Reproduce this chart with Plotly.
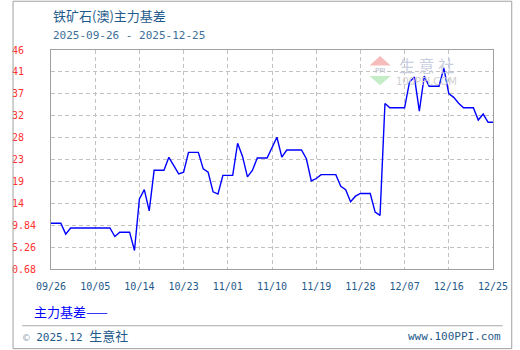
import plotly.graph_objects as go

# ---- data ----
dates = [
    "2025-09-26", "2025-09-28", "2025-09-29", "2025-09-30", "2025-10-08", "2025-10-09",
    "2025-10-10", "2025-10-12", "2025-10-13", "2025-10-14", "2025-10-15", "2025-10-16",
    "2025-10-17", "2025-10-19", "2025-10-20", "2025-10-22", "2025-10-23", "2025-10-24",
    "2025-10-26", "2025-10-27", "2025-10-28", "2025-10-29", "2025-10-30", "2025-10-31",
    "2025-11-02", "2025-11-03", "2025-11-04", "2025-11-05", "2025-11-06", "2025-11-07",
    "2025-11-09", "2025-11-11", "2025-11-12", "2025-11-13", "2025-11-16", "2025-11-17",
    "2025-11-18", "2025-11-19", "2025-11-20", "2025-11-23", "2025-11-24", "2025-11-25",
    "2025-11-26", "2025-11-27", "2025-11-28", "2025-11-30", "2025-12-01", "2025-12-02",
    "2025-12-03", "2025-12-04", "2025-12-07", "2025-12-08", "2025-12-09", "2025-12-10",
    "2025-12-11", "2025-12-12", "2025-12-14", "2025-12-15", "2025-12-16", "2025-12-17",
    "2025-12-18", "2025-12-19", "2025-12-21", "2025-12-22", "2025-12-23", "2025-12-24",
    "2025-12-25",
]
basis = [
    10.24, 10.24, 7.98, 9.26, 9.26, 7.47,
    8.38, 8.38, 4.54, 15.35, 17.27, 12.83,
    21.32, 21.32, 24.04, 20.56, 20.91, 25.06,
    25.06, 21.62, 20.91, 16.82, 16.36, 20.26,
    20.26, 26.98, 24.22, 19.93, 21.3, 23.88,
    23.88, 28.24, 24.09, 25.56, 25.56, 23.74,
    19.09, 19.6, 20.41, 20.41, 17.98, 17.27,
    14.75, 15.91, 16.47, 16.47, 12.58, 11.9,
    35.3, 34.39, 34.39, 39.79, 40.82, 33.7,
    41.02, 38.9, 38.9, 42.7, 37.38, 36.58,
    35.36, 34.39, 34.39, 31.83, 33.08, 31.36,
    31.36,
]
series_name = "主力基差"

x_tick_vals = ["2025-09-26", "2025-10-05", "2025-10-14", "2025-10-23", "2025-11-01",
               "2025-11-10", "2025-11-19", "2025-11-28", "2025-12-07", "2025-12-16",
               "2025-12-25"]
x_tick_text = ["09/26", "10/05", "10/14", "10/23", "11/01", "11/10", "11/19", "11/28",
               "12/07", "12/16", "12/25"]
y_tick_vals = [0.68, 5.26, 9.84, 14.42, 19.0, 23.58, 28.16, 32.74, 37.32, 41.9, 46.48]
y_tick_text = ["0.68", "5.26", "9.84", "14", "19", "23", "28", "32", "37", "41", "46"]

title_text = "铁矿石(澳)主力基差"
subtitle_text = "2025-09-26 - 2025-12-25"
footer_left = "2025.12"
footer_brand = "生意社"
footer_right = "www.100PPI.com"

# ---- layout geometry (pixels) ----
W_FIG, H_FIG = 520, 350
L, R, T, B = 40, 20, 49.5, 80.5
PW = W_FIG - L - R
PH = H_FIG - T - B


def px(x):
    return (x - L) / PW


def py(y):
    return (H_FIG - B - y) / PH


MONO = "DejaVu Sans Mono"
CJK = "Noto Sans CJK SC"
BLUE_TXT = "#1f5a8a"

fig = go.Figure()
fig.add_trace(go.Scatter(
    x=dates, y=basis, mode="lines", name=series_name,
    line=dict(color="#0000ff", width=1.4), hoverinfo="skip",
))

pad = max(len(t) for t in y_tick_text)
y_text_padded = [t + "\u00a0" * (pad - len(t)) for t in y_tick_text]

fig.update_layout(
    width=W_FIG, height=H_FIG,
    margin=dict(l=L, r=R, t=T, b=B, pad=0),
    paper_bgcolor="white", plot_bgcolor="white",
    showlegend=False,
    xaxis=dict(
        type="date", range=[x_tick_vals[0], x_tick_vals[-1]],
        tickvals=x_tick_vals, ticktext=x_tick_text,
        tickfont=dict(family=MONO, size=10, color=BLUE_TXT),
        ticks="", ticklabelstandoff=8,
        showgrid=True, gridcolor="#c2c2c2", gridwidth=1, griddash="4px,3px",
        showline=True, linecolor="#a0a0a0", linewidth=1, mirror=True,
        zeroline=False, fixedrange=True,
    ),
    yaxis=dict(
        range=[y_tick_vals[0], y_tick_vals[-1]],
        tickvals=y_tick_vals, ticktext=y_text_padded,
        tickfont=dict(family=MONO, size=10, color="#ff3030"),
        ticks="", ticklabelstandoff=12,
        showgrid=True, gridcolor="#c2c2c2", gridwidth=1, griddash="4px,3px",
        showline=True, linecolor="#a0a0a0", linewidth=1, mirror=True,
        zeroline=False, fixedrange=True,
    ),
)

ann = []
ann.append(dict(text=title_text, x=px(40), y=py(15), xref="paper", yref="paper",
                xanchor="left", yanchor="middle", showarrow=False,
                font=dict(family=CJK, size=13, color=BLUE_TXT)))
ann.append(dict(text=subtitle_text, x=px(40), y=py(35), xref="paper", yref="paper",
                xanchor="left", yanchor="middle", showarrow=False,
                font=dict(family=MONO, size=11, color="#3d6f99")))
ann.append(dict(text=series_name + "——", x=px(20), y=py(312), xref="paper", yref="paper",
                xanchor="left", yanchor="middle", showarrow=False,
                font=dict(family=CJK, size=13, color="#0000ff")))
ann.append(dict(text="<span style='color:#9aaabb'>©</span> " + footer_left +
                " <span style='font-family:Noto Sans CJK SC;font-size:13px'>" + footer_brand + "</span>",
                x=px(9), y=py(336), xref="paper", yref="paper",
                xanchor="left", yanchor="middle", showarrow=False,
                font=dict(family=MONO, size=11, color=BLUE_TXT)))
ann.append(dict(text=footer_right, x=px(510), y=py(337), xref="paper", yref="paper",
                xanchor="right", yanchor="middle", showarrow=False,
                font=dict(family=MONO, size=11, color=BLUE_TXT)))
# watermark
ann.append(dict(text="生 意 社", x=px(431), y=py(65), xref="paper", yref="paper",
                xanchor="center", yanchor="middle", showarrow=False,
                font=dict(family=CJK, size=16, color="#c9cee0")))
ann.append(dict(text="100PPI.COM", x=px(431), y=py(81), xref="paper", yref="paper",
                xanchor="center", yanchor="middle", showarrow=False,
                font=dict(family="DejaVu Sans", size=10, color="#cfcfcf")))
ann.append(dict(text="PPI", x=px(382.5), y=py(70.3), xref="paper", yref="paper",
                xanchor="center", yanchor="middle", showarrow=False,
                font=dict(family="DejaVu Sans", size=7, color="#b8bccc")))
fig.update_layout(annotations=ann)


def path(points):
    return "M " + " L ".join(f"{px(a)},{py(b)}" for a, b in points) + " Z"


shapes = [
    # outer frame
    dict(type="rect", xref="paper", yref="paper", x0=px(0.5), x1=px(519.5),
         y0=py(0.5), y1=py(349.5), line=dict(color="#a0a0a0", width=1)),
    # footer separator
    dict(type="line", xref="paper", yref="paper", x0=px(10), x1=px(510),
         y0=py(326.5), y1=py(326.5), line=dict(color="#a8a8a8", width=1)),
    # watermark logo
    dict(type="path", xref="paper", yref="paper",
         path=path([(371.5, 65), (393.5, 65), (382.5, 55.5)]),
         fillcolor="#f6bcbc", line=dict(width=0)),
    dict(type="path", xref="paper", yref="paper",
         path=path([(371.5, 75.5), (393.5, 75.5), (382.5, 85)]),
         fillcolor="#c4ecc6", line=dict(width=0)),
]
fig.update_layout(shapes=shapes)

fig.write_html("out.html")
